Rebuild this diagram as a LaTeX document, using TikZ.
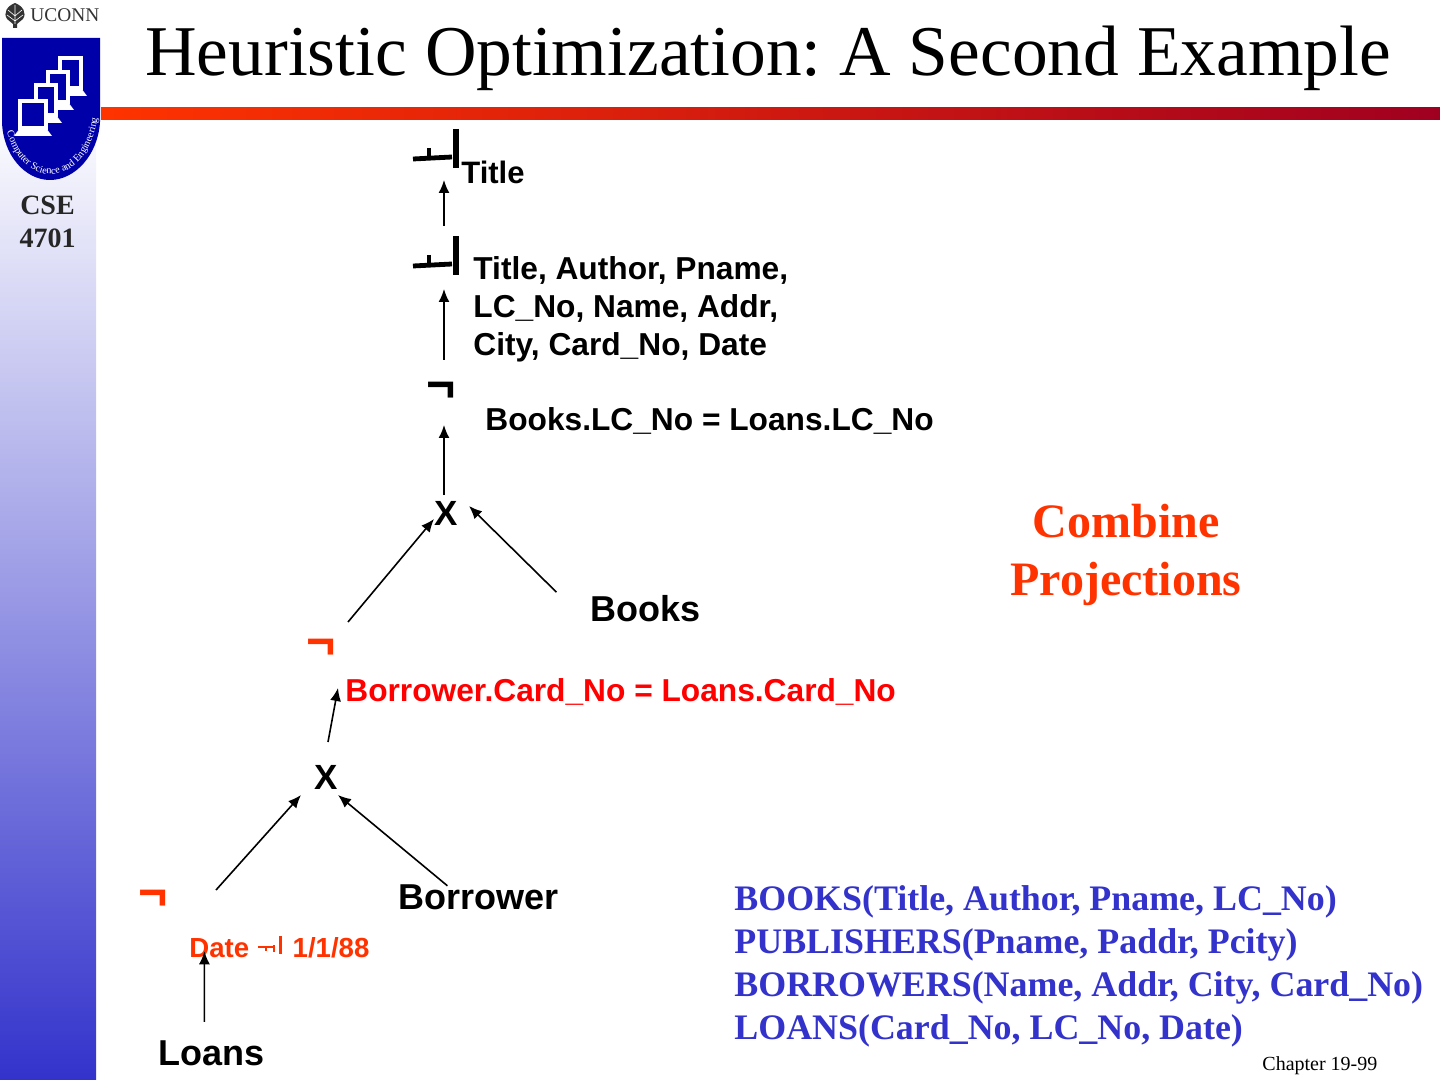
\documentclass[tikz,border=0pt]{standalone}
\usepackage{fontspec}
\setmainfont{Liberation Serif}
\setsansfont{Liberation Sans}
\usetikzlibrary{calc, arrows.meta, decorations.text}
\definecolor{slideblue}{HTML}{3333CC}
\definecolor{sloganred}{HTML}{FF3300}
\definecolor{barred}{HTML}{A00020}
\definecolor{shieldblue}{HTML}{0000A8}
\tikzset{
    headline/.style={anchor=base west, font=\fontsize{35.7}{40}\selectfont},
    sidetext/.style={anchor=base, font=\fontsize{14}{16}\selectfont\bfseries, text=black!85},
    label/.style={anchor=base west, inner sep=0pt, font=\fontsize{15.85}{19}\selectfont\sffamily\bfseries},
    relation/.style={label, font=\fontsize{18}{20}\selectfont\sffamily\bfseries},
    schema/.style={anchor=north west, inner sep=0pt, align=left, text=slideblue, font=\fontsize{17.95}{21.5}\selectfont\bfseries},
    sel/.style={inner sep=0pt, font=\fontsize{25}{28}\selectfont\sffamily\bfseries},
    crossop/.style={inner sep=0pt, font=\fontsize{17.5}{20}\selectfont\sffamily\bfseries},
    conn/.style={-{Latex[length=6.5pt, width=5.5pt]}, line width=0.8pt},
    projop/.style={inner sep=0pt, minimum size=2pt}
}
\newcommand{\projglyph}[2]{% x and y of the glyph's centre
    \draw[line width=2.4pt] (#1-31,#2+12) -- (#1+8,#2+10);
    \draw[line width=2.4pt] (#1-15,#2+1) -- (#1-15,#2+10);
    \draw[line width=3pt] (#1+12,#2-18) -- (#1+12,#2+21);
}
\begin{document}
\frenchspacing
\begin{tikzpicture}[x=0.5pt, y=-0.5pt]
    \useasboundingbox (0,0) rectangle (1440,1080);
    % left band and red rule
    \shade[top color=white, bottom color=slideblue] (0,108) rectangle (96,1080);
    \shade[left color=sloganred, right color=barred] (101,108) rectangle (1440,120);
    % logo
    \fill[black!80] (15,28) -- (13,28) -- (13,24) -- (7,19) .. controls (3,13) and (7,6) .. (15,3) .. controls (23,6) and (27,13) .. (23,19) -- (17,24) -- (17,28) -- cycle;
    \draw[white, line width=0.3pt] (15,5) -- (15,24) (8,10) -- (15,16) -- (22,10) (7,15) -- (15,21) -- (23,15);
    \node[anchor=base west, inner sep=0pt, font=\fontsize{9.7}{12}\selectfont, text=black!80] (uconn) at (30,22) {UCONN};
    \fill[shieldblue] (2,38) -- (100,38) -- (100,122) .. controls (98,155) and (75,180) .. (50,180) .. controls (25,180) and (3,155) .. (2,122) -- cycle;
    \foreach \px/\py/\pw/\ph in {60/58/21/30, 48/72/20/30, 36/85/20/30, 20/101/26/27}{
        \fill[white] (\px-6,\py+\ph+8) -- (\px+\pw+6,\py+\ph+8) -- (\px+\pw,\py+\ph) -- (\px,\py+\ph) -- cycle;
        \fill[shieldblue] (\px-2,\py-2) rectangle (\px+\pw+2,\py+\ph+2);
        \draw[white, line width=2pt] (\px,\py) rectangle (\px+\pw,\py+\ph);
    }
    \path[postaction={decorate, decoration={text along path, text align=center, text color=white,
        text={|\fontsize{5.1}{6}\selectfont|Computer Science and Engineering}}}]
        (5,122) .. controls (10,155) and (30,174) .. (50,174) .. controls (72,174) and (94,155) .. (99,108);
    \node[sidetext] (cse) at (47.5,215) {CSE};
    \node[sidetext] (course) at (47.5,248) {4701};
    % heading and footer
    \node[headline, inner sep=0pt] (heading) at (145,76) {Heuristic Optimization: A Second Example};
    \node[anchor=base west, inner sep=0pt, font=\fontsize{10}{12}\selectfont] (chapter) at (1262,1070) {Chapter 19-99};
    % operators of the tree
    \node[projop] (projA) at (444,147) {};
    \node[projop] (projB) at (444,254) {};
    \node[sel] (selA) at (441,392) {¬};
    \node[crossop] (crossA) at (446,513) {X};
    \node[sel, text=sloganred] (selB) at (321,649) {¬};
    \node[crossop] (crossB) at (326,777) {X};
    \node[sel, text=sloganred] (selC) at (153,900) {¬};
    \projglyph{444}{147}
    \projglyph{444}{254}
    % labels
    \node[label, font=\fontsize{15.5}{19}\selectfont\sffamily\bfseries] (titleattr) at (461,184) {Title};
    \node[label, anchor=north west, align=left] (attrs) at (473,256) {Title, Author, Pname,\\LC\_No, Name, Addr,\\City, Card\_No, Date};
    \node[label] (joinA) at (485,430) {Books.LC\_No = Loans.LC\_No};
    \node[label, text=red] (joinB) at (345,701) {Borrower.Card\_No = Loans.Card\_No};
    \node[label, font=\fontsize{13.8}{16}\selectfont\sffamily\bfseries, text=sloganred] (datecond) at (189,957) {Date \hspace{1.02em} 1/1/88};
    \draw[sloganred, line width=1.1pt] (258,947) -- (275,947) (266,947) -- (266,951);
    \draw[sloganred, line width=1.1pt] (274,945) -- (274,952) (280.5,936) -- (280.5,954);
    \node[relation] (books) at (590,621) {Books};
    \node[relation] (borrower) at (398,909) {Borrower};
    \node[relation] (loans) at (158,1065) {Loans};
    \node[anchor=center, align=center, inner sep=0pt, text=sloganred, font=\fontsize{24}{29}\selectfont\bfseries] (slogan) at (1126,555) {Combine\\Projections};
    \node[schema] (schemas) at (734,885) {BOOKS(Title, Author, Pname, LC\_No)\\PUBLISHERS(Pname, Paddr, Pcity)\\BORROWERS(Name, Addr, City, Card\_No)\\LOANS(Card\_No, LC\_No, Date)};
    % connectors
    \draw[conn] ($(projB)+(0,-28)$) -- ($(projA)+(0,33)$);
    \draw[conn] ($(selA)+(3,-32)$) -- ($(projB)+(0,35)$);
    \draw[conn] ($(crossA)+(-2,-18)$) -- ($(selA)+(3,33)$);
    \draw[conn] ($(selB)+(27,-27)$) -- ($(crossA)+(-12,6)$);
    \draw[conn] ($(books)+(-89,-16)$) -- ($(crossA)+(23,-7)$);
    \draw[conn] ($(crossB)+(2,-35)$) -- ($(selB)+(17,39)$);
    \draw[conn] ($(selC)+(63,-10)$) -- ($(crossB)+(-25,18)$);
    \draw[conn] ($(borrower)+(-31,-11)$) -- ($(crossB)+(12,18)$);
    \draw[conn] ($(loans)+(-7,-31)$) -- ($(datecond)+(-75,4)$);
\end{tikzpicture}
\end{document}
